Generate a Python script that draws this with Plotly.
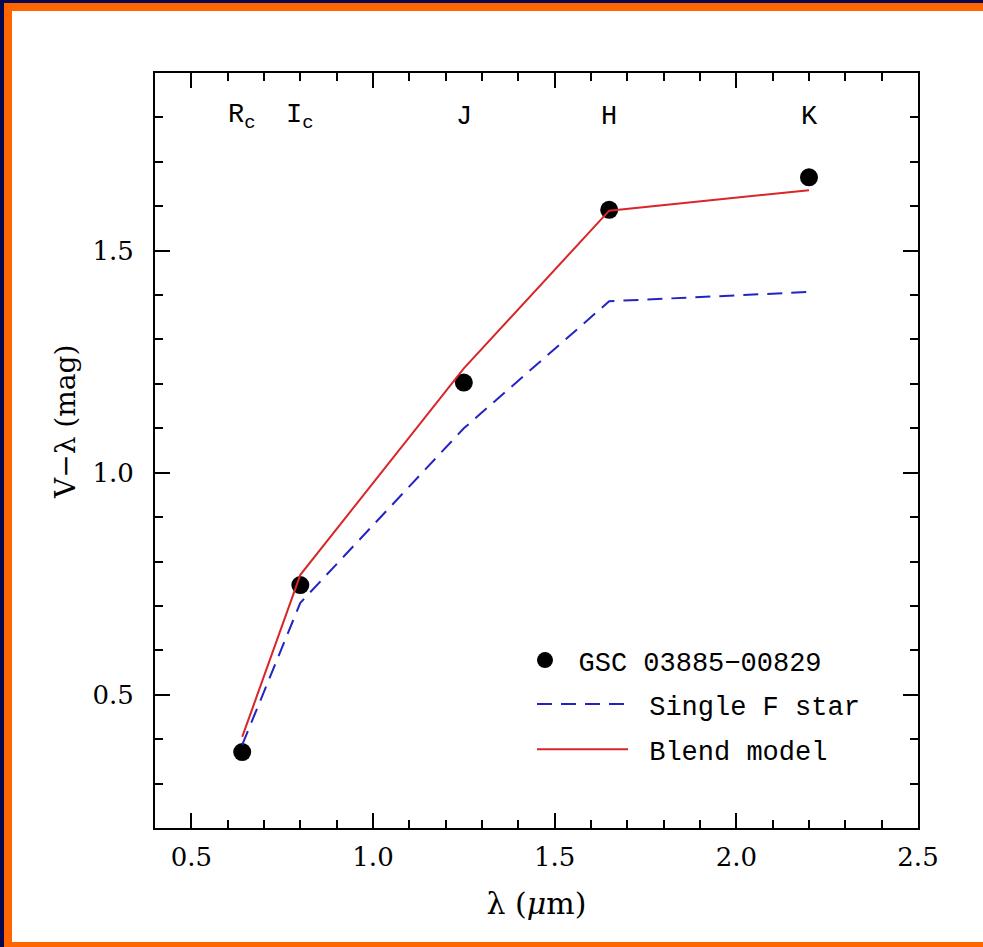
import plotly.graph_objects as go

# ---- data ----
band_labels = ["R<sub>c</sub>", "I<sub>c</sub>", "J", "H", "K"]
wavelength = [0.64, 0.80, 1.25, 1.65, 2.20]          # micron
observed = [0.371, 0.747, 1.203, 1.592, 1.665]       # GSC 03885-00829
single_f_star = [0.387, 0.707, 1.100, 1.386, 1.407]
blend_model = [0.405, 0.770, 1.235, 1.590, 1.636]
band_label_y = 1.80

x_ticks = [0.5, 1.0, 1.5, 2.0, 2.5]
x_ticktext = ["0.5", "1.0", "1.5", "2.0", "2.5"]
y_ticks = [0.5, 1.0, 1.5]
y_ticktext = ["0.5", "1.0", "1.5"]

W, H = 983, 947
ML, MR, MT, MB = 155, 65, 73, 119
PW, PH = W - ML - MR, H - MT - MB

def px(x):
    return (x - ML) / PW

def py(y):
    return (H - MB - y) / PH

NAVY = "#06094f"
ORANGE = "#ff6600"
RED = "#d8262a"
BLUE = "#2424c0"
SERIF = "DejaVu Serif"
MONO = "Liberation Mono"

fig = go.Figure()
fig.add_trace(go.Scatter(
    x=wavelength, y=observed, mode="markers",
    name="\u2002GSC 03885\u221200829",
    marker=dict(color="black", size=18), legend="legend"))
fig.add_trace(go.Scatter(
    x=wavelength, y=single_f_star, mode="lines",
    name="\u00a0Single F star",
    line=dict(color=BLUE, width=2, dash="15px,9px"), legend="legend2",
    legendgroup="a"))
fig.add_trace(go.Scatter(
    x=wavelength, y=blend_model, mode="lines",
    name="\u00a0Blend model",
    line=dict(color=RED, width=2), legend="legend2", legendgroup="b"))

for lab, wl in zip(band_labels, wavelength):
    fig.add_annotation(x=wl, y=band_label_y, text=lab, showarrow=False,
                       font=dict(family=MONO, size=27, color="black"),
                       xanchor="center", yanchor="middle")

# y-axis title (placed slightly above the plot centre, as in the original)
fig.add_annotation(xref="paper", yref="paper", x=px(65), y=py(422),
                   text="V\u2212\u03bb (mag)", textangle=-90, showarrow=False,
                   xanchor="center", yanchor="middle",
                   font=dict(family=SERIF, size=28, color="black"))

def strip(x0, x1, y0, y1, color):
    return dict(type="rect", xref="paper", yref="paper",
                x0=px(x0), x1=px(x1), y0=py(y1), y1=py(y0),
                fillcolor=color, line_width=0, layer="below")

# decorative slide frame: navy edge, orange border (left, top, bottom)
shapes = [
    strip(0, 4, 0, H, NAVY),
    strip(0, W, 0, 3, NAVY),
    strip(4, 12, 3, H, ORANGE),
    strip(4, W, 3, 11, ORANGE),
    strip(4, W, 942, H, ORANGE),
]

axis_common = dict(
    showline=True, linecolor="black", linewidth=2, mirror="allticks",
    ticks="inside", ticklen=15, tickwidth=1.5, tickcolor="black",
    showgrid=False, zeroline=False,
    tickfont=dict(family=SERIF, size=26, color="black"),
    minor=dict(ticks="inside", ticklen=8, tickwidth=1.5, tickcolor="black",
               dtick=0.1, showgrid=False),
)

fig.update_layout(
    width=W, height=H,
    margin=dict(l=ML, r=MR, t=MT, b=MB, pad=0),
    paper_bgcolor="white", plot_bgcolor="white",
    shapes=shapes,
    xaxis=dict(range=[0.4, 2.5], tickmode="array", tickvals=x_ticks,
               ticktext=x_ticktext, ticklabelstandoff=5,
               title=dict(text="\u03bb (<i>\u03bc</i>m)", standoff=22,
                          font=dict(family=SERIF, size=30, color="black")),
               **axis_common),
    yaxis=dict(range=[0.2, 1.9], tickmode="array", tickvals=y_ticks,
               ticktext=y_ticktext, ticklabelstandoff=14,
               **axis_common),
    legend=dict(x=px(525), y=py(636), xanchor="left", yanchor="top",
                bgcolor="rgba(0,0,0,0)", borderwidth=0,
                font=dict(family=MONO, size=27, color="black")),
    legend2=dict(x=px(532), y=py(680), xanchor="left", yanchor="top",
                 bgcolor="rgba(0,0,0,0)", borderwidth=0, itemwidth=91,
                 tracegroupgap=7,
                 font=dict(family=MONO, size=27, color="black")),
    showlegend=True,
)

fig.write_html(
    "out.html",
    config={"displayModeBar": False},
    post_script="document.documentElement.style.overflow='hidden';"
                "document.body.style.margin='0';"
                "document.body.style.overflow='hidden';"
                "document.body.style.background='white';",
)
